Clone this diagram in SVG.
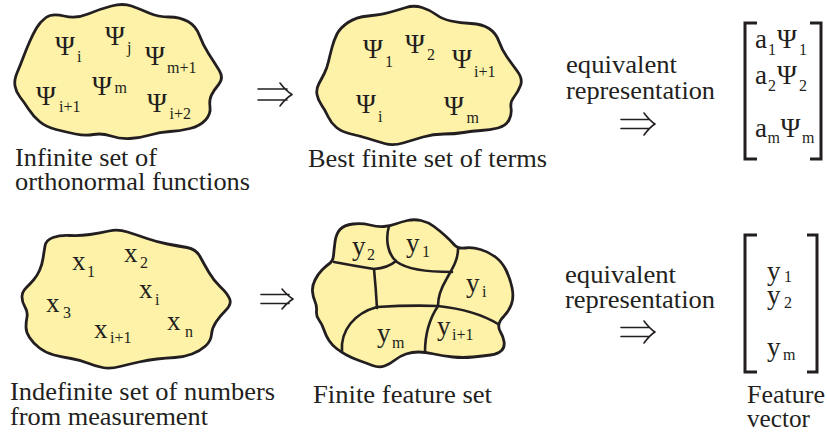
<svg xmlns="http://www.w3.org/2000/svg" width="827" height="437" viewBox="0 0 827 437" font-family="Liberation Serif, Tinos, Times New Roman, Times, serif">
<style>
.blob{fill:#FDF2A8;stroke:#231F20;stroke-width:2.8;stroke-linejoin:round}
.div{fill:none;stroke:#231F20;stroke-width:2.6;stroke-linecap:round}
text{font-family:'Liberation Serif',Tinos,'Times New Roman',Times,serif;fill:#231F20}
.cap{font-size:26px}
.sym{font-size:27px}
.psi{font-size:27px}
.sub{font-size:16px}
.arr{fill:none;stroke:#231F20;stroke-width:1.6;stroke-linecap:round;stroke-linejoin:round}
.brk{fill:none;stroke:#231F20;stroke-width:3}
</style>

<g id="node-infinite-set">
<path class="blob" d="M36.5,28 Q40,22 46,17.5 Q52,13 64,16 Q76,19 88,14 Q100,9 111.5,6 Q123,3 131.5,6 Q140,9 149,13 Q158,17 169,17 Q180,17 188,21.5 Q196,26 199.5,35.5 Q203,45 208.5,53.5 Q214,62 219,70 Q224,78 219,84 Q214,90 211.5,95 Q209,100 210,107 Q211,114 205.5,120 Q200,126 190,128.5 Q180,131 170,131.5 Q160,132 150,135 Q140,138 130,138.5 Q120,139 111,136 Q102,133 93.5,134.5 Q85,136 75.5,134 Q66,132 56,129.5 Q46,127 39.5,121.5 Q33,116 28.5,109 Q24,102 20,97 Q16,92 15,86 Q14,80 17,73 Q20,66 23,58 Q26,50 29.5,42 Q33,34 36.5,28 Z"/>
<text class="psi" x="55" y="55">Ψ</text><text class="sub" x="77" y="62">i</text>
<text class="psi" x="105" y="45">Ψ</text><text class="sub" x="127" y="53">j</text>
<text class="psi" x="145" y="65">Ψ</text><text class="sub" x="167" y="73">m+1</text>
<text class="psi" x="36" y="105">Ψ</text><text class="sub" x="59" y="112">i+1</text>
<text class="psi" x="92" y="95">Ψ</text><text class="sub" x="114.5" y="93">m</text>
<text class="psi" x="147" y="112">Ψ</text><text class="sub" x="169.5" y="119">i+2</text>
<text class="cap" x="15" y="166" textLength="142" lengthAdjust="spacingAndGlyphs">Infinite set of</text>
<text class="cap" x="15" y="190" textLength="235" lengthAdjust="spacingAndGlyphs">orthonormal functions</text>
</g>

<g id="node-best-finite-set">
<path class="blob" d="M337,34 Q340,28 348,22.5 Q356,17 368,16 Q380,15 389,12.5 Q398,10 406,7.5 Q414,5 422,7.5 Q430,10 436,14.5 Q442,19 451,21 Q460,23 471,23.5 Q482,24 489,28.5 Q496,33 499,41.5 Q502,50 507,57 Q512,64 517.5,71.5 Q523,79 520.5,85.5 Q518,92 514,97 Q510,102 511,108 Q512,114 509,120 Q506,126 498,128 Q490,130 481,130.5 Q472,131 463.5,132.5 Q455,134 444,134 Q433,134 423,137 Q413,140 403,143 Q393,146 384.5,143.5 Q376,141 368,138.5 Q360,136 351,134 Q342,132 336.5,127.5 Q331,123 328,116.5 Q325,110 321.5,105 Q318,100 317,94.5 Q316,89 319,83.5 Q322,78 324.5,73 Q327,68 328.5,61.5 Q330,55 332,47.5 Q334,40 337,34 Z"/>
<text class="psi" x="363" y="58">Ψ</text><text class="sub" x="385" y="67">1</text>
<text class="psi" x="405" y="53">Ψ</text><text class="sub" x="427" y="60">2</text>
<text class="psi" x="452" y="68">Ψ</text><text class="sub" x="474" y="77">i+1</text>
<text class="psi" x="356" y="113">Ψ</text><text class="sub" x="378" y="122">i</text>
<text class="psi" x="444" y="115">Ψ</text><text class="sub" x="466.5" y="123">m</text>
<text class="cap" x="308" y="167" textLength="239" lengthAdjust="spacingAndGlyphs">Best finite set of terms</text>
</g>

<g id="node-top-vector">
<text class="cap" x="566" y="73" textLength="111" lengthAdjust="spacingAndGlyphs">equivalent</text>
<text class="cap" x="566" y="99" textLength="149" lengthAdjust="spacingAndGlyphs">representation</text>
<path class="brk" d="M757,23 H745 V159 H757"/>
<path class="brk" d="M810,23 H821 V159 H810"/>
<text class="sym" x="755" y="48">a</text><text class="sub" x="768" y="55">1</text><text class="psi" x="777" y="48">Ψ</text><text class="sub" x="799" y="55">1</text>
<text class="sym" x="755" y="84">a</text><text class="sub" x="768" y="91">2</text><text class="psi" x="777" y="84">Ψ</text><text class="sub" x="799" y="91">2</text>
<text class="sym" x="755" y="137">a</text><text class="sub" x="767.5" y="143">m</text><text class="psi" x="780.5" y="137">Ψ</text><text class="sub" x="802" y="143">m</text>
</g>

<g id="node-indefinite-set">
<path class="blob" d="M45,246 Q46,240 53,237.5 Q60,235 70,235.5 Q80,236 90,234.5 Q100,233 109,231 Q118,229 127.5,232 Q137,235 147,238.5 Q157,242 167.5,244 Q178,246 187,247.5 Q196,249 200,256.5 Q204,264 209,272.5 Q214,281 220.5,287 Q227,293 229.5,298.5 Q232,304 226,310 Q220,316 216,322 Q212,328 211.5,334.5 Q211,341 205.5,346 Q200,351 192,354 Q184,357 175,357.5 Q166,358 157,359 Q148,360 139,362 Q130,364 120,366.5 Q110,369 102.5,367.5 Q95,366 87.5,363 Q80,360 71,358.5 Q62,357 54,355 Q46,353 39.5,348 Q33,343 29.5,337.5 Q26,332 26,327 Q26,322 27,317 Q28,312 25,307 Q22,302 22,297 Q22,292 26,288 Q30,284 33.5,280 Q37,276 39.5,270.5 Q42,265 43,258.5 Q44,252 45,246 Z"/>
<text class="sym" x="72" y="270">x</text><text class="sub" x="87" y="277">1</text>
<text class="sym" x="124" y="262">x</text><text class="sub" x="140" y="268">2</text>
<text class="sym" x="139" y="298">x</text><text class="sub" x="155" y="305">i</text>
<text class="sym" x="46" y="312">x</text><text class="sub" x="63" y="318">3</text>
<text class="sym" x="94" y="338">x</text><text class="sub" x="110" y="343">i+1</text>
<text class="sym" x="167" y="330">x</text><text class="sub" x="185" y="337">n</text>
<text class="cap" x="10" y="400" textLength="265" lengthAdjust="spacingAndGlyphs">Indefinite set of numbers</text>
<text class="cap" x="10" y="425" textLength="198" lengthAdjust="spacingAndGlyphs">from measurement</text>
</g>

<g id="node-finite-feature-set">
<path class="blob" d="M335,242 Q336,234 340,229.5 Q344,225 353,224 Q362,223 370,225 Q378,227 384,226.5 Q390,226 395.5,224 Q401,222 407.5,220.5 Q414,219 421,220.5 Q428,222 434,226.5 Q440,231 445,235.5 Q450,240 454,244.5 Q458,249 465,248 Q472,247 480.5,249.5 Q489,252 495.5,257 Q502,262 506,270 Q510,278 512,287.5 Q514,297 511.5,304 Q509,311 504.5,315.5 Q500,320 499,324 Q498,328 500.5,332 Q503,336 504,341.5 Q505,347 501.5,350.5 Q498,354 490.5,355 Q483,356 473,357 Q463,358 453,357 Q443,356 434,354 Q425,352 418.5,352 Q412,352 406,354 Q400,356 395,360 Q390,364 384.5,366 Q379,368 372.5,365.5 Q366,363 359,360.5 Q352,358 346.5,355 Q341,352 336.5,348.5 Q332,345 329,340.5 Q326,336 324,330 Q322,324 319,320 Q316,316 316.5,311 Q317,306 315,301.5 Q313,297 312.5,291.5 Q312,286 315,280 Q318,274 322,270 Q326,266 329.5,263.5 Q333,261 333.5,255.5 Q334,250 335,242 Z"/>
<path class="div" d="M334,262 Q355,266 374,269 Q388,268 396,261"/>
<path class="div" d="M389,226 C385,240 388,255 397,262 C408,270 430,272 452,272"/>
<path class="div" d="M458,249 C458,262 450,272 446,280 C440,290 438,298 438,306"/>
<path class="div" d="M374,269 Q376,290 377,308"/>
<path class="div" d="M377,307 Q410,305 438,306 Q475,310 498,324"/>
<path class="div" d="M342,352 C340,330 355,313 377,307"/>
<path class="div" d="M438,306 C430,318 425,333 425,352"/>
<text class="sym" x="352" y="255">y</text><text class="sub" x="367" y="260">2</text>
<text class="sym" x="406" y="252">y</text><text class="sub" x="422" y="257">1</text>
<text class="sym" x="466" y="292">y</text><text class="sub" x="482" y="297">i</text>
<text class="sym" x="377" y="342">y</text><text class="sub" x="392" y="348">m</text>
<text class="sym" x="437" y="335">y</text><text class="sub" x="452" y="340">i+1</text>
<text class="cap" x="313" y="403" textLength="179" lengthAdjust="spacingAndGlyphs">Finite feature set</text>
</g>

<g id="node-feature-vector">
<text class="cap" x="565" y="283" textLength="111" lengthAdjust="spacingAndGlyphs">equivalent</text>
<text class="cap" x="565" y="308" textLength="150" lengthAdjust="spacingAndGlyphs">representation</text>
<path class="brk" d="M757,235 H745 V372 H757"/>
<path class="brk" d="M807,235 H817 V372 H807"/>
<text class="sym" x="767" y="280">y</text><text class="sub" x="784" y="282">1</text>
<text class="sym" x="767" y="304">y</text><text class="sub" x="784" y="308">2</text>
<text class="sym" x="767" y="356">y</text><text class="sub" x="783" y="360">m</text>
<text class="cap" x="747" y="403" textLength="78" lengthAdjust="spacingAndGlyphs">Feature</text>
<text class="cap" x="747" y="427" textLength="63" lengthAdjust="spacingAndGlyphs">vector</text>
</g>

<g id="connectors">
<path class="arr" d="M258,89 H287 M258,100 H287 M280,83 Q286,91 292,94.5 Q286,98 280,106"/>
<path class="arr" d="M261,294.5 H289 M261,303.5 H289 M282,289 Q288,296 293,299 Q288,302 282,309"/>
<path class="arr" d="M621,119.5 H649 M621,128.5 H649 M644,113 Q650,121 655,124 Q650,127 644,135"/>
<path class="arr" d="M621,327.5 H649 M621,336.5 H649 M644,321 Q650,329 655,332 Q650,335 644,343"/>
</g>
</svg>
